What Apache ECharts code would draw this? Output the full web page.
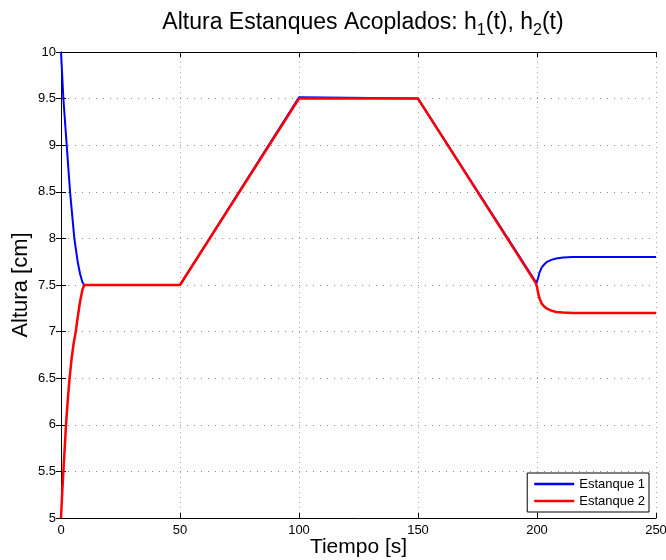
<!DOCTYPE html>
<html>
<head>
<meta charset="utf-8">
<script src="https://cdn.jsdelivr.net/npm/echarts@6/dist/echarts.min.js"></script>
<style>
  html, body { margin: 0; padding: 0; background: #fff; }
  #chart { width: 666px; height: 560px; }
</style>
</head>
<body>
<div id="chart"></div>
<script>
// ejes
const xTicks = [0, 50, 100, 150, 200, 250]
const yTicks = [5, 5.5, 6, 6.5, 7, 7.5, 8, 8.5, 9, 9.5, 10]

// Estanque 1 (tiempo, altura)
const tiempo1 = [0, 1, 2.4, 3.8, 5.6, 7, 8, 9, 9.8, 50, 100, 100.6, 150, 199.8, 200.5, 201, 202, 203, 204, 206, 208, 211, 215, 250]
const altura1 = [10, 9.5, 9, 8.5, 8, 7.75, 7.62, 7.53, 7.5, 7.5, 9.515, 9.5, 9.5, 7.52, 7.58, 7.63, 7.69, 7.72, 7.745, 7.77, 7.785, 7.795, 7.8, 7.8]

// Estanque 2 (tiempo, altura)
const tiempo2 = [0, 0.5, 1, 1.5, 2.1, 2.8, 3.6, 4.5, 5.3, 6.2, 7, 8, 9, 9.8, 50, 100, 150, 199.5, 200, 200.5, 201, 202, 203, 204, 206, 208, 211, 215, 250]
const altura2 = [5, 5.27, 5.5, 5.72, 6, 6.25, 6.5, 6.72, 6.87, 7, 7.15, 7.32, 7.45, 7.5, 7.5, 9.5, 9.5, 7.52, 7.48, 7.41, 7.36, 7.3, 7.27, 7.25, 7.225, 7.21, 7.205, 7.2, 7.2]

const font = 'Liberation Sans, Arial, sans-serif'
const chart = echarts.init(document.getElementById('chart'))

const pares = (xs, ys) => xs.map((x, i) => [x, ys[i]])

// eje secundario para cerrar la caja
const cajaEje = {
  axisLine: { show: true, lineStyle: { color: '#000', width: 1 } },
  axisTick: { show: true, inside: true, length: 5, lineStyle: { color: '#000' } },
  axisLabel: { show: false },
  splitLine: { show: false }
}

chart.setOption({
  animation: false,
  backgroundColor: '#fff',
  title: {
    text: '{a|Altura Estanques Acoplados: h}{s|1}{a|(t), h}{s|2}{a|(t)}',
    left: 358,
    textAlign: 'center',
    top: 2,
    textStyle: {
      rich: {
        a: { fontFamily: font, fontSize: 23, fontWeight: 'normal', color: '#000' },
        s: { fontFamily: font, fontSize: 16, fontWeight: 'normal', color: '#000', padding: [16, 0, 0, 0] }
      }
    }
  },
  grid: { left: 61, right: 10, top: 52, bottom: 42, outerBoundsMode: 'none' },
  legend: {
    orient: 'vertical',
    right: 17,
    bottom: 48,
    icon: 'rect',
    itemWidth: 40,
    itemHeight: 2.5,
    itemGap: 3,
    padding: [4, 4, 4, 7],
    borderColor: '#000',
    borderWidth: 1,
    borderRadius: 0,
    backgroundColor: '#fff',
    textStyle: { fontFamily: font, fontSize: 13, color: '#000', lineHeight: 14 },
    data: ['Estanque 1', 'Estanque 2']
  },
  xAxis: [
    {
      type: 'value',
      min: xTicks[0],
      max: xTicks[xTicks.length - 1],
      interval: 50,
      name: 'Tiempo [s]',
      nameLocation: 'middle',
      nameGap: 19,
      nameMoveOverlap: false,
      nameTextStyle: { fontFamily: font, fontSize: 21, color: '#000' },
      axisLine: { show: true, onZero: false, lineStyle: { color: '#000', width: 1 } },
      axisTick: { show: true, inside: true, length: 5, lineStyle: { color: '#000' } },
      axisLabel: { fontFamily: font, fontSize: 13, color: '#000', margin: 6 },
      splitLine: { show: true, lineStyle: { color: '#aaa', type: [1, 4], width: 1 } }
    },
    Object.assign({ type: 'value', position: 'top', min: 0, max: 250, interval: 50 }, cajaEje)
  ],
  yAxis: [
    {
      type: 'value',
      min: yTicks[0],
      max: yTicks[yTicks.length - 1],
      interval: 0.5,
      name: 'Altura [cm]',
      nameLocation: 'middle',
      nameGap: 29,
      nameMoveOverlap: false,
      nameTextStyle: { fontFamily: font, fontSize: 22, color: '#000' },
      axisLine: { show: true, onZero: false, lineStyle: { color: '#000', width: 1 } },
      axisTick: { show: true, inside: true, length: 5, lineStyle: { color: '#000' } },
      axisLabel: { fontFamily: font, fontSize: 13, color: '#000', margin: 5 },
      splitLine: { show: true, lineStyle: { color: '#888', type: [1, 6], width: 1 } }
    },
    Object.assign({ type: 'value', position: 'right', min: 5, max: 10, interval: 0.5 }, cajaEje)
  ],
  series: [
    {
      name: 'Estanque 1',
      type: 'line',
      showSymbol: false,
      symbol: 'none',
      data: pares(tiempo1, altura1),
      lineStyle: { color: '#0000ff', width: 2 },
      itemStyle: { color: '#0000ff' },
      z: 2
    },
    {
      name: 'Estanque 2',
      type: 'line',
      showSymbol: false,
      symbol: 'none',
      data: pares(tiempo2, altura2),
      lineStyle: { color: '#ff0000', width: 2.5 },
      itemStyle: { color: '#ff0000' },
      z: 3
    }
  ]
})
</script>
</body>
</html>
